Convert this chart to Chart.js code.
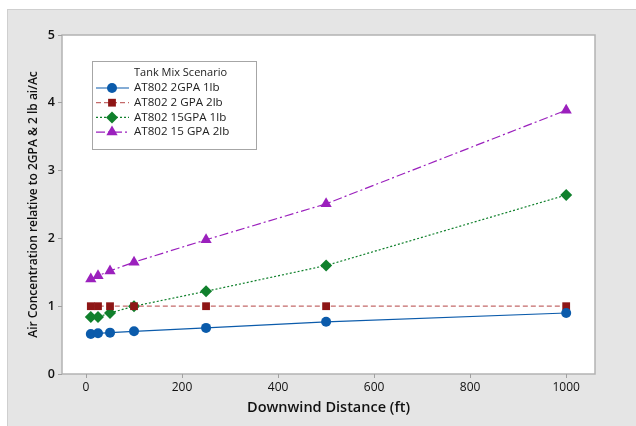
<!DOCTYPE html>
<html>
<head>
<meta charset="utf-8">
<script src="https://cdn.jsdelivr.net/npm/chart.js@4"></script>
<style>
  html, body { margin: 0; padding: 0; background: #fff; }
  #wrap { width: 636px; height: 426px; position: relative; }
</style>
</head>
<body>
<div id="wrap"><canvas id="chart" width="636" height="426"></canvas></div>
<script>
const distances = [10, 25, 50, 100, 250, 500, 1000];
const seriesNames = ["AT802 2GPA 1lb", "AT802 2 GPA 2lb", "AT802 15GPA 1lb", "AT802 15 GPA 2lb"];
const gpa2lb1 = [0.59, 0.60, 0.61, 0.63, 0.68, 0.77, 0.90];
const gpa2lb2 = [1.00, 1.00, 1.00, 1.00, 1.00, 1.00, 1.00];
const gpa15lb1 = [0.84, 0.84, 0.90, 1.00, 1.22, 1.60, 2.64];
const gpa15lb2 = [1.40, 1.45, 1.52, 1.65, 1.98, 2.51, 3.89];
const xTicks = [0, 200, 400, 600, 800, 1000];
const yTicks = [0, 1, 2, 3, 4, 5];

const FONT = "'Open Sans', 'Noto Sans', sans-serif";

function pts(values) {
  return distances.map((d, i) => ({ x: d, y: values[i] }));
}

const styles = [
  { color: '#0b5bab', line: '#0b5bab', dash: [], point: 'circle', r: 5 },
  { color: '#8e1616', line: '#c46a6a', dash: [5, 3], point: 'rect', r: 5.5 },
  { color: '#10802c', line: '#10802c', dash: [2, 2], point: 'rectRot', r: 6 },
  { color: '#9b20bd', line: '#9b20bd', dash: [9, 3, 2, 3], point: 'triangle', r: 6.5 }
];
const allValues = [gpa2lb1, gpa2lb2, gpa15lb1, gpa15lb2];

const datasets = allValues.map((vals, i) => ({
  label: seriesNames[i],
  data: pts(vals),
  borderColor: styles[i].line,
  borderWidth: 1.2,
  borderDash: styles[i].dash,
  backgroundColor: styles[i].color,
  pointBackgroundColor: styles[i].color,
  pointBorderColor: styles[i].color,
  pointBorderWidth: 0,
  pointStyle: styles[i].point,
  pointRadius: styles[i].r,
  tension: 0
}));

const framePlugin = {
  id: 'frame',
  beforeDraw(chart) {
    const ctx = chart.ctx;
    const a = chart.chartArea;
    ctx.save();
    ctx.fillStyle = '#ffffff';
    ctx.fillRect(0, 0, chart.width, chart.height);
    ctx.fillStyle = '#e5e5e5';
    ctx.fillRect(7, 9, chart.width - 7, chart.height - 9);
    ctx.strokeStyle = '#cfcfcf';
    ctx.lineWidth = 1;
    ctx.strokeRect(7.5, 9.5, chart.width, chart.height);
    ctx.fillStyle = '#ffffff';
    ctx.fillRect(a.left, a.top, a.right - a.left, a.bottom - a.top);
    ctx.strokeStyle = '#b3b3b3';
    ctx.lineWidth = 1.5;
    ctx.strokeRect(a.left, a.top, a.right - a.left, a.bottom - a.top);
    ctx.restore();
  }
};

const legendPlugin = {
  id: 'boxLegend',
  afterDraw(chart) {
    const ctx = chart.ctx;
    const bx = 92, by = 61, bw = 164, bh = 88;
    ctx.save();
    ctx.fillStyle = '#ffffff';
    ctx.fillRect(bx, by, bw, bh);
    ctx.strokeStyle = '#a6a6a6';
    ctx.lineWidth = 1;
    ctx.strokeRect(bx + 0.5, by + 0.5, bw, bh);
    ctx.fillStyle = '#222';
    ctx.font = '500 11px ' + FONT;
    ctx.textBaseline = 'middle';
    ctx.textAlign = 'left';
    ctx.fillText('Tank Mix Scenario', 134, 73);
    chart.data.datasets.forEach((ds, i) => {
      const y = 88 + i * 14.7;
      ctx.strokeStyle = ds.borderColor;
      ctx.lineWidth = 1.2;
      ctx.setLineDash(ds.borderDash);
      ctx.beginPath();
      ctx.moveTo(96, y);
      ctx.lineTo(129, y);
      ctx.stroke();
      ctx.setLineDash([]);
      ctx.fillStyle = ds.pointBackgroundColor;
      Chart.helpers.drawPoint(ctx, {
        pointStyle: ds.pointStyle, radius: ds.pointRadius, borderWidth: 0, rotation: 0
      }, 112, y);
      ctx.fillStyle = '#222';
      ctx.font = '500 11.6px ' + FONT;
      ctx.fillText(ds.label, 134, y);
    });
    ctx.restore();
  }
};

new Chart(document.getElementById('chart'), {
  type: 'line',
  data: { datasets: datasets },
  plugins: [framePlugin, legendPlugin],
  options: {
    responsive: false,
    animation: false,
    layout: { padding: { left: 0, top: 35, right: 41, bottom: 0 } },
    plugins: { legend: { display: false }, tooltip: { enabled: false } },
    scales: {
      x: {
        type: 'linear',
        min: -50,
        max: 1060,
        afterBuildTicks: (axis) => { axis.ticks = xTicks.map(v => ({ value: v })); },
        afterFit: (axis) => { axis.height = 52; },
        grid: { display: true, drawOnChartArea: false, drawTicks: true, tickLength: 4, color: '#a0a0a0' },
        border: { display: false },
        ticks: {
          color: '#111', font: { family: FONT, size: 12 }, padding: 2, maxRotation: 0,
          callback: (v) => String(v)
        },
        title: {
          display: true,
          text: 'Downwind Distance (ft)',
          color: '#111',
          font: { family: FONT, size: 14.5, weight: '600' },
          padding: { top: 0, bottom: 9 }
        }
      },
      y: {
        type: 'linear',
        min: 0,
        max: 5,
        afterBuildTicks: (axis) => { axis.ticks = yTicks.map(v => ({ value: v })); },
        afterFit: (axis) => { axis.width = 62; },
        grid: { display: true, drawOnChartArea: false, drawTicks: true, tickLength: 4, color: '#a0a0a0' },
        border: { display: false },
        ticks: { color: '#111', font: { family: FONT, size: 12.5, weight: '600' }, padding: 3 },
        title: {
          display: true,
          text: 'Air Concentration relative to 2GPA & 2 lb ai/Ac',
          color: '#111',
          font: { family: FONT, size: 12, weight: '600' },
          padding: { top: 26, bottom: 0 }
        }
      }
    }
  }
});
</script>
</body>
</html>
